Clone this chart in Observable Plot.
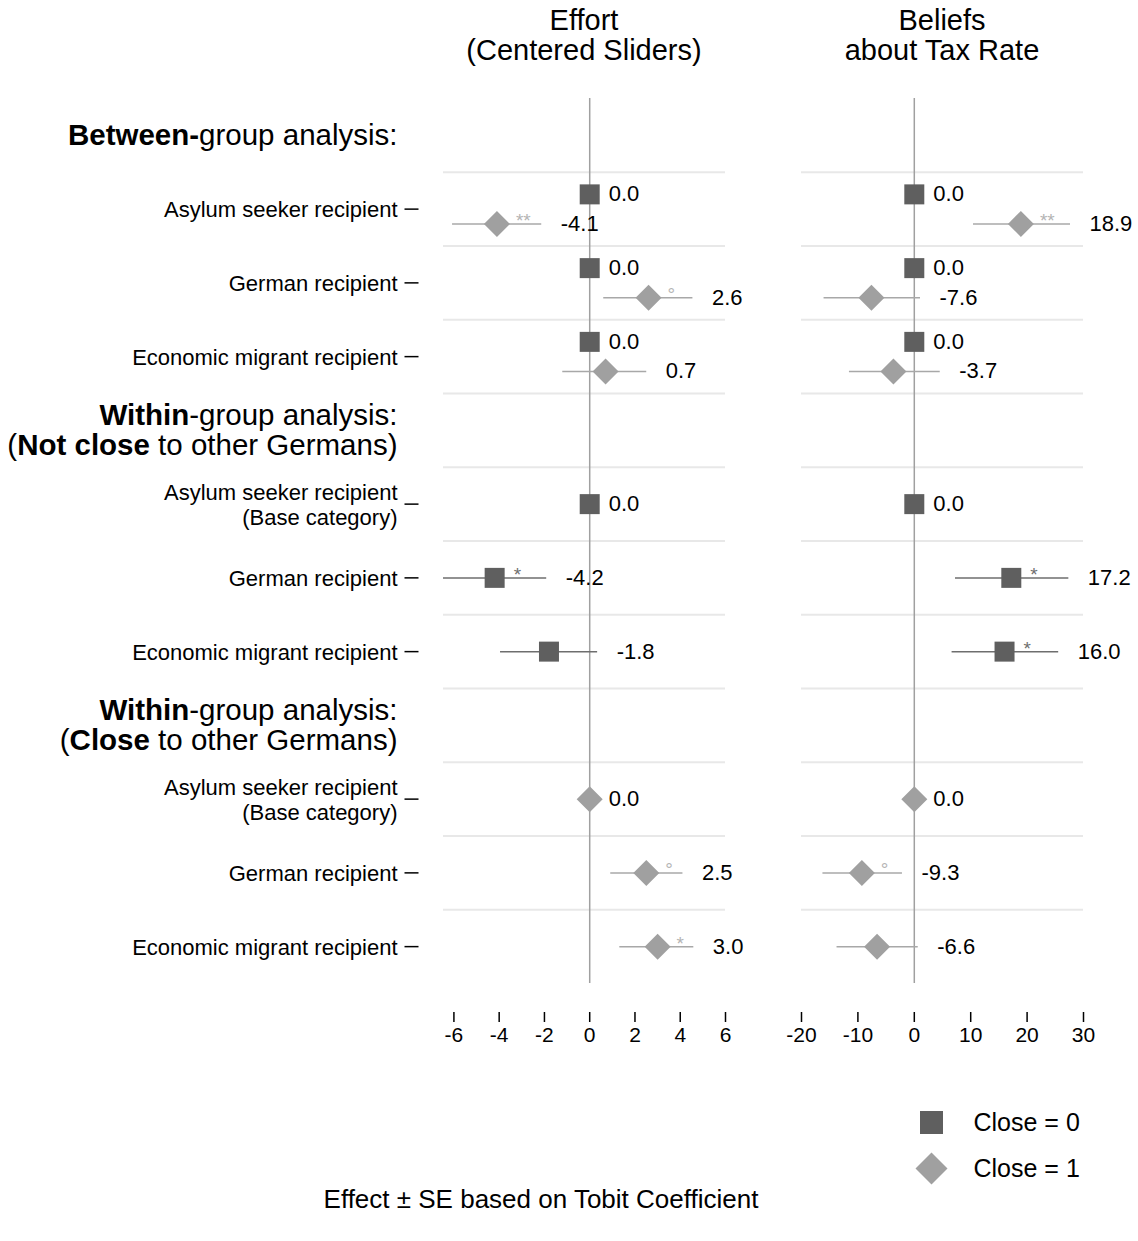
<!DOCTYPE html>
<html>
<head>
<meta charset="utf-8">
<script src="https://cdn.jsdelivr.net/npm/d3@7"></script>
<script src="https://cdn.jsdelivr.net/npm/@observablehq/plot@0.6"></script>
<style>
  body { margin: 0; background: #fff; font-family: "Liberation Sans", Arial, sans-serif; color: #000; }
  #root { position: relative; width: 1138px; height: 1241px; overflow: hidden; background: #fff; }
  .title { position: absolute; text-align: center; font-size: 29px; line-height: 30px; width: 400px; top: 5px; }
  .caption { position: absolute; left: 0; width: 1082px; text-align: center; font-size: 26px; line-height: 30px; top: 1184px; }
</style>
</head>
<body>
<div id="root"></div>
<script>
// ---------------- DATA ----------------
const rowLabels = [
  "*Between-*group analysis:",
  "Asylum seeker recipient",
  "German recipient",
  "Economic migrant recipient",
  "*Within*-group analysis:\n(*Not close* to other Germans)",
  "Asylum seeker recipient\n(Base category)",
  "German recipient",
  "Economic migrant recipient",
  "*Within*-group analysis:\n(*Close* to other Germans)",
  "Asylum seeker recipient\n(Base category)",
  "German recipient",
  "Economic migrant recipient"
];
const rowIsHeader = [true, false, false, false, true, false, false, false, true, false, false, false];
const groups = ["Close = 0", "Close = 1"];

// one entry per plotted point (both panels share rows/groups)
const pointRow   = [1, 2, 3, 1, 2, 3, 5, 6, 7, 9, 10, 11];
const pointGroup = [0, 0, 0, 1, 1, 1, 0, 0, 0, 1, 1, 1];

// Effort (Centered Sliders)
const effortEst = [0.0, 0.0, 0.0, -4.1, 2.6, 0.7, 0.0, -4.2, -1.8, 0.0, 2.5, 3.0];
const effortLo  = [null, null, null, -6.06, 0.62, -1.19, null, -6.46, -3.94, null, 0.93, 1.33];
const effortHi  = [null, null, null, -2.12, 4.56, 2.52, null, -1.90, 0.35, null, 4.12, 4.60];
const effortSig = ["", "", "", "**", "°", "", "", "*", "", "", "°", "*"];
const effortTicks = [-6, -4, -2, 0, 2, 4, 6];

// Beliefs about Tax Rate
const beliefEst = [0.0, 0.0, 0.0, 18.9, -7.6, -3.7, 0.0, 17.2, 16.0, 0.0, -9.3, -6.6];
const beliefLo  = [null, null, null, 10.5, -16.0, -11.5, null, 7.3, 6.7, null, -16.2, -13.7];
const beliefHi  = [null, null, null, 27.7, 1.1, 4.6, null, 27.4, 25.6, null, -2.1, 0.7];
const beliefSig = ["", "", "", "**", "", "", "", "*", "*", "", "°", ""];
const beliefTicks = [-20, -10, 0, 10, 20, 30];

// ---------------- HELPERS ----------------
const FONT = '"Liberation Sans", Arial, sans-serif';
const SQ_COLOR = "#5f5f5f", DI_COLOR = "#a0a0a0";
const SQ_BAR = "#6e6e6e", DI_BAR = "#a8a8a8";
const SQ_SIG = "#6e6e6e", DI_SIG = "#b4b4b4";

const squareSym = { draw(ctx, size) { const s = Math.sqrt(size) / 2; ctx.moveTo(-s, -s); ctx.lineTo(s, -s); ctx.lineTo(s, s); ctx.lineTo(-s, s); ctx.closePath(); } };
const diamondSym = { draw(ctx, size) { const h = Math.sqrt(size) / 2; ctx.moveTo(0, -h); ctx.lineTo(h, 0); ctx.lineTo(0, h); ctx.lineTo(-h, 0); ctx.closePath(); } };
const dashSym = { draw(ctx, size) { const h = Math.sqrt(size) / 2; ctx.moveTo(-h, 0); ctx.lineTo(h, 0); } };
const rFor = side => side / Math.sqrt(Math.PI);

const nRows = rowLabels.length;
const rowIdx = d3.range(nRows);
const yTop = -0.5, yBottom = nRows - 0.5;
const gridLines = rowIdx.slice(1).map(i => i - 0.5);
const categoryRows = rowIdx.filter(i => !rowIsHeader[i]);
const headerRows = rowIdx.filter(i => rowIsHeader[i]);

function buildPanel(est, lo, hi, sig) {
  return pointRow.map((r, i) => {
    const both = pointRow.filter(x => x === r).length > 1;
    const off = both ? (pointGroup[i] === 0 ? -0.2 : 0.2) : 0;
    return {
      y: r + off, g: pointGroup[i], est: est[i], lo: lo[i], hi: hi[i], sig: sig[i],
      labelX: hi[i] ?? est[i], label: est[i].toFixed(1)
    };
  });
}

const TOP = 98, TICKGAP = 29;
const H = 1062, MB = 50;

function panel({ data, domain, ticks, width, marginLeft, marginRight, showY }) {
  const marks = [
    Plot.ruleY(gridLines, { stroke: "#e8e8e8", strokeWidth: 2 }),
    Plot.ruleX([0], { y1: yTop, y2: yBottom, stroke: "#a0a0a0", strokeWidth: 1.5 }),
    Plot.ruleY(data.filter(d => d.lo != null && d.g === 0), { y: "y", x1: "lo", x2: "hi", stroke: SQ_BAR, strokeWidth: 1.5 }),
    Plot.ruleY(data.filter(d => d.lo != null && d.g === 1), { y: "y", x1: "lo", x2: "hi", stroke: DI_BAR, strokeWidth: 1.5 }),
    Plot.dot(data.filter(d => d.g === 0), { x: "est", y: "y", symbol: squareSym, r: rFor(20), fill: SQ_COLOR, stroke: null }),
    Plot.dot(data.filter(d => d.g === 1), { x: "est", y: "y", symbol: diamondSym, r: rFor(26), fill: DI_COLOR, stroke: null }),
    Plot.text(data.filter(d => d.sig && d.g === 0), { x: "est", y: "y", text: "sig", dx: 19, dy: -3, textAnchor: "start", fontSize: 19, fill: SQ_SIG }),
    Plot.text(data.filter(d => d.sig && d.g === 1), { x: "est", y: "y", text: "sig", dx: 19, dy: -3, textAnchor: "start", fontSize: 19, fill: DI_SIG }),
    Plot.text(data, { x: "labelX", y: "y", text: "label", dx: 19, textAnchor: "start", fontSize: 22, fill: "#000" }),
    Plot.axisX({ ticks, tickSize: 10, tickPadding: 5, fontSize: 21, tickFormat: d => String(d), strokeWidth: 1.5, label: null, stroke: "#000", fill: "#000" })
  ];
  if (showY) {
    marks.push(
      Plot.text(categoryRows, { y: d => d, text: d => rowLabels[d], frameAnchor: "left", dx: -46, textAnchor: "end", fontSize: 22, lineHeight: 1.15, fill: "#000" }),
      Plot.text(headerRows, { y: d => d, text: d => rowLabels[d], frameAnchor: "left", dx: -46, textAnchor: "end", fontSize: 29.5, lineHeight: 1.02, fill: "#000" }),
      Plot.dot(categoryRows, { y: d => d, frameAnchor: "left", dx: -32, symbol: dashSym, r: rFor(14), stroke: "#000", strokeWidth: 1.5, fill: "none" })
    );
  }
  const plotH = H - MB - TOP;
  const yMax = yBottom + TICKGAP / ((plotH - TICKGAP) / (yBottom - yTop));
  return Plot.plot({
    width, height: H, marginTop: TOP, marginBottom: MB, marginLeft, marginRight,
    style: { fontFamily: FONT, fontSize: "22px", color: "#000", background: "transparent" },
    x: { domain },
    y: { domain: [yTop, yMax], reverse: true, axis: null },
    marks
  });
}

// headers: segments wrapped in * are bold
function boldify(svg) {
  const NS = "http://www.w3.org/2000/svg";
  svg.querySelectorAll("text").forEach(text => {
    const full = text.textContent;
    if (full.length < 5 || !full.includes("*")) return;
    let lines = Array.from(text.querySelectorAll("tspan"));
    if (!lines.length) lines = [text];
    lines.forEach(el => {
      const s = el.textContent;
      el.textContent = "";
      s.split("*").forEach((part, k) => {
        if (!part) return;
        const t = document.createElementNS(NS, "tspan");
        if (k % 2) t.setAttribute("font-weight", "bold");
        t.textContent = part;
        el.appendChild(t);
      });
    });
  });
}

// ---------------- BUILD ----------------
const root = document.getElementById("root");

const left = panel({
  data: buildPanel(effortEst, effortLo, effortHi, effortSig),
  domain: [-6.46, 6.0], ticks: effortTicks, width: 760, marginLeft: 443, marginRight: 35, showY: true
});
boldify(left);
left.style.position = "absolute"; left.style.left = "0px"; left.style.top = "0px";
root.appendChild(left);

const right = panel({
  data: buildPanel(beliefEst, beliefLo, beliefHi, beliefSig),
  domain: [-20, 30], ticks: beliefTicks, width: 378, marginLeft: 41, marginRight: 55, showY: false
});
right.style.position = "absolute"; right.style.left = "760px"; right.style.top = "0px";
root.appendChild(right);

// titles and caption
function addDiv(cls, html, style) {
  const d = document.createElement("div");
  d.className = cls; d.innerHTML = html;
  Object.assign(d.style, style);
  root.appendChild(d);
}
addDiv("title", "Effort<br>(Centered Sliders)", { left: (584 - 200) + "px" });
addDiv("title", "Beliefs<br>about Tax Rate", { left: (942 - 200) + "px" });
addDiv("caption", "Effect ± SE based on Tobit Coefficient", {});

// legend
const legendData = groups.map((g, i) => ({ g, i }));
const legend = Plot.plot({
  width: 240, height: 100, marginLeft: 31, marginRight: 0, marginTop: 27, marginBottom: 27,
  style: { fontFamily: FONT, color: "#000", background: "transparent" },
  y: { domain: groups, type: "point", padding: 0, axis: null },
  x: { axis: null },
  marks: [
    Plot.dot(legendData.filter(d => d.i === 0), { y: "g", frameAnchor: "left", symbol: squareSym, r: rFor(23), fill: SQ_COLOR, stroke: null }),
    Plot.dot(legendData.filter(d => d.i === 1), { y: "g", frameAnchor: "left", symbol: diamondSym, r: rFor(32), fill: DI_COLOR, stroke: null }),
    Plot.text(legendData, { y: "g", text: "g", frameAnchor: "left", dx: 42, textAnchor: "start", fontSize: 25, fill: "#000" })
  ]
});
legend.style.position = "absolute"; legend.style.left = "900px"; legend.style.top = "1095px";
root.appendChild(legend);
</script>
</body>
</html>
